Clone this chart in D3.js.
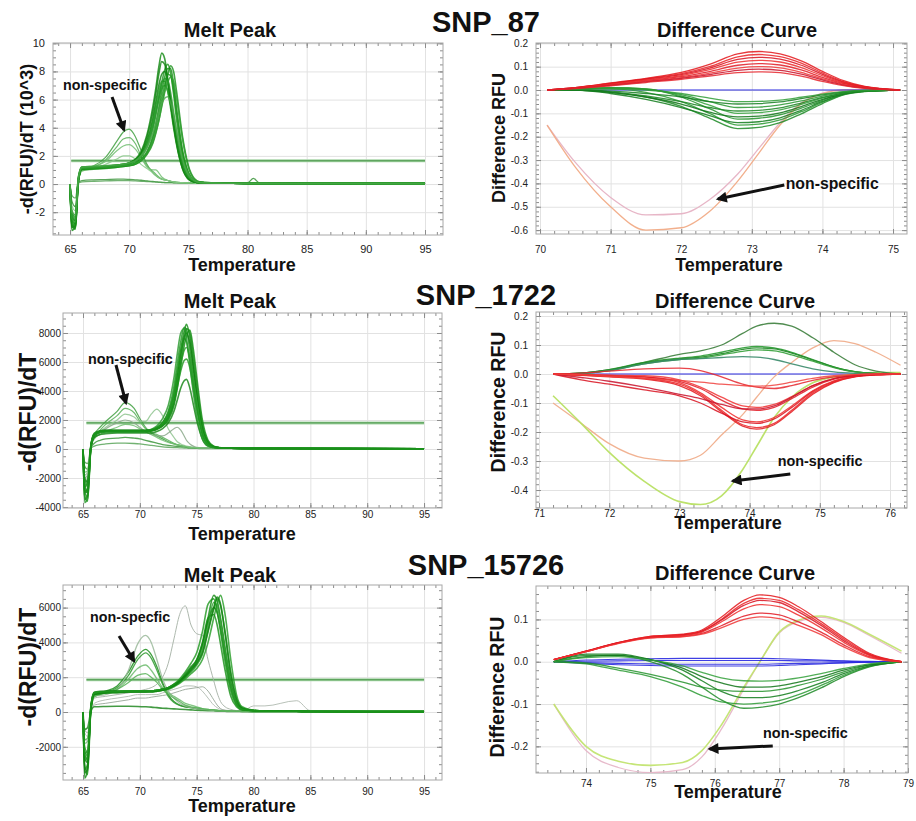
<!DOCTYPE html>
<html>
<head>
<meta charset="utf-8">
<script src="https://cdn.jsdelivr.net/npm/d3@7/dist/d3.min.js"></script>
<style>
  body { margin: 0; background: #fff; }
  svg text { font-family: "Liberation Sans", Arial, sans-serif; }
</style>
</head>
<body>
<svg width="916" height="821"></svg>
<script>
// ---------------- SNP_87 : melt peak (values in 10^3) ----------------
var meltTemps87 = [65, 65.15, 65.45, 65.7, 66, 67, 68, 69, 69.5, 70, 70.5, 71, 71.5, 72, 72.25, 72.5, 72.75, 73, 73.25, 73.5, 73.75, 74, 74.5, 75, 75.5, 76, 78, 80, 80.5, 81, 85, 95];
var melt87Main = [
  [0,-3.3,-3.0,0.3,1.15,1.2,1.25,1.35,1.4,1.5,1.75,2.3,3.5,5.5,6.8,8.3,9.3,8.9,7.5,5.8,4.3,3.0,1.2,0.4,0.15,0.1,0.06,0.05,0.05,0.05,0.04,0.03],
  [0,-2.7,-3.1,0.1,1.05,1.1,1.15,1.25,1.3,1.35,1.5,1.9,2.6,3.9,4.9,6.0,7.2,8.1,8.5,7.9,6.4,4.6,2.0,0.7,0.25,0.1,0.06,0.05,0.05,0.05,0.04,0.03],
  [0,-2.3,-2.6,0.4,1.2,1.2,1.25,1.35,1.4,1.5,1.7,2.1,3.0,4.6,5.8,7.0,7.8,8.0,7.4,6.1,4.6,3.3,1.4,0.45,0.15,0.1,0.06,0.05,0.05,0.05,0.04,0.03],
  [0,-3.0,-2.7,0.2,1.1,1.15,1.2,1.3,1.35,1.45,1.65,2.1,3.0,4.5,5.6,6.6,7.3,7.3,6.6,5.4,4.0,2.8,1.1,0.35,0.15,0.1,0.06,0.05,0.05,0.05,0.04,0.03],
  [0,-2.5,-2.8,0.3,1.1,1.15,1.2,1.25,1.3,1.35,1.45,1.75,2.3,3.4,4.3,5.4,6.6,7.6,8.2,8.2,7.1,5.4,2.4,0.8,0.25,0.1,0.06,0.05,0.05,0.05,0.04,0.03],
  [0,-2.0,-2.4,0.5,1.2,1.25,1.3,1.35,1.4,1.5,1.7,2.1,2.9,4.2,5.2,6.1,6.8,7.0,6.6,5.6,4.3,3.1,1.3,0.45,0.15,0.1,0.06,0.05,0.05,0.05,0.04,0.03],
  [0,-3.1,-2.9,0.2,1.1,1.15,1.2,1.3,1.35,1.45,1.7,2.2,3.3,5.1,6.4,7.8,8.7,8.5,7.3,5.7,4.2,2.9,1.1,0.35,0.15,0.1,0.06,0.05,0.05,0.05,0.04,0.03],
  [0,-2.6,-2.9,0.2,1.0,1.05,1.1,1.2,1.25,1.3,1.4,1.7,2.2,3.2,4.0,5.0,6.1,7.1,7.8,7.7,6.7,5.1,2.3,0.8,0.25,0.1,0.06,0.05,0.05,0.05,0.04,0.03],
  [0,-2.2,-2.5,0.3,1.15,1.2,1.25,1.3,1.35,1.45,1.6,2.0,2.8,4.1,5.1,6.2,7.1,7.5,7.4,6.5,5.1,3.7,1.6,0.55,0.2,0.1,0.06,0.05,0.05,0.05,0.04,0.03],
  [0,-2.9,-3.2,0.2,1.05,1.1,1.15,1.2,1.25,1.3,1.4,1.65,2.1,2.9,3.6,4.5,5.6,6.7,7.7,8.4,8.0,6.6,3.4,1.3,0.4,0.15,0.06,0.05,0.05,0.05,0.04,0.03],
  [0,-2.4,-2.7,0.3,1.1,1.15,1.2,1.25,1.3,1.35,1.45,1.7,2.2,3.0,3.7,4.5,5.5,6.5,7.2,7.6,7.3,6.1,3.2,1.2,0.35,0.12,0.06,0.05,0.05,0.05,0.04,0.03],
  [0,-2.0,-2.2,0.4,1.2,1.25,1.3,1.35,1.4,1.5,1.65,2.0,2.6,3.6,4.3,5.0,5.7,6.1,6.2,5.8,4.9,3.8,1.8,0.7,0.25,0.1,0.06,0.05,0.05,0.05,0.04,0.03]
];
var melt87Nonspec = [
  [0,-2.0,-2.3,0.3,1.1,1.3,1.9,3.1,3.7,3.9,3.4,2.4,1.4,0.8,0.6,0.45,0.35,0.3,0.25,0.2,0.15,0.12,0.1,0.08,0.07,0.06,0.05,0.05,0.05,0.05,0.04,0.03],
  [0,-1.8,-2.2,0.2,1.0,1.2,1.7,2.7,3.2,3.3,2.9,2.0,1.3,0.9,0.7,0.5,0.35,0.3,0.25,0.2,0.15,0.12,0.1,0.08,0.07,0.06,0.05,0.05,0.05,0.05,0.04,0.03],
  [0,-2.4,-2.6,0.3,1.1,1.25,1.6,2.4,2.7,2.8,2.5,1.9,1.2,1.0,1.0,0.8,0.5,0.35,0.25,0.2,0.15,0.12,0.1,0.08,0.07,0.06,0.05,0.05,0.05,0.05,0.04,0.03],
  [0,-1.5,-1.9,0.2,0.9,1.1,1.4,1.8,2.0,2.0,1.8,1.4,1.1,0.8,0.6,0.45,0.35,0.3,0.25,0.2,0.15,0.12,0.1,0.08,0.07,0.06,0.05,0.05,0.05,0.05,0.04,0.03]
];
var melt87Low = [
  [0,-1.2,-1.6,0.1,0.25,0.3,0.32,0.35,0.35,0.33,0.3,0.27,0.22,0.18,0.16,0.14,0.12,0.11,0.1,0.1,0.09,0.09,0.08,0.08,0.07,0.07,0.06,0.08,0.4,0.08,0.05,0.04],
  [0,-0.8,-1.0,0.05,0.15,0.2,0.22,0.25,0.25,0.24,0.22,0.2,0.18,0.16,0.14,0.12,0.11,0.1,0.1,0.1,0.09,0.09,0.08,0.08,0.07,0.07,0.06,0.06,0.06,0.06,0.05,0.04]
];
var melt87Threshold = 1.65;
var meltTicksX = [65, 70, 75, 80, 85, 90, 95];
var melt87TicksY = [-2, 0, 2, 4, 6, 8, 10];

// ---------------- SNP_87 : difference curve ----------------
var diffTemps87 = [70.1, 70.5, 71, 71.5, 72, 72.4, 72.8, 73.1, 73.4, 73.7, 74, 74.3, 74.6, 75.1];
var diff87Red = [
  [0,0.01,0.03,0.05,0.075,0.11,0.155,0.165,0.155,0.125,0.08,0.04,0.015,0],
  [0,0.01,0.028,0.048,0.07,0.1,0.142,0.152,0.143,0.115,0.073,0.036,0.014,0],
  [0,0.01,0.027,0.046,0.066,0.094,0.131,0.14,0.132,0.106,0.067,0.033,0.013,0],
  [0,0.009,0.025,0.043,0.062,0.087,0.119,0.127,0.12,0.096,0.061,0.03,0.012,0],
  [0,0.008,0.023,0.04,0.057,0.079,0.106,0.113,0.107,0.086,0.054,0.027,0.01,0],
  [0,0.008,0.022,0.038,0.053,0.072,0.094,0.1,0.095,0.076,0.048,0.024,0.009,0],
  [0,0.007,0.02,0.035,0.05,0.066,0.084,0.089,0.084,0.068,0.043,0.021,0.008,0],
  [0,0.006,0.018,0.032,0.046,0.06,0.074,0.078,0.074,0.059,0.037,0.019,0.007,0]
];
var diff87Green = [
  [0,0,-0.01,-0.03,-0.07,-0.12,-0.165,-0.16,-0.14,-0.102,-0.058,-0.021,-0.007,0],
  [0,0.005,0.005,-0.01,-0.05,-0.1,-0.15,-0.146,-0.128,-0.093,-0.053,-0.02,-0.006,0],
  [0,0,-0.015,-0.04,-0.075,-0.11,-0.14,-0.136,-0.119,-0.087,-0.049,-0.018,-0.006,0],
  [0,0.005,0.01,0.005,-0.03,-0.08,-0.125,-0.121,-0.106,-0.078,-0.044,-0.016,-0.005,0],
  [0,0,-0.01,-0.03,-0.06,-0.095,-0.115,-0.112,-0.098,-0.071,-0.04,-0.015,-0.005,0],
  [0,0.005,0.01,0.005,-0.025,-0.065,-0.1,-0.097,-0.085,-0.062,-0.035,-0.013,-0.004,0],
  [0,0,-0.008,-0.025,-0.05,-0.075,-0.09,-0.087,-0.077,-0.056,-0.032,-0.012,-0.004,0],
  [0,0.005,0.008,0.003,-0.02,-0.05,-0.075,-0.073,-0.064,-0.047,-0.026,-0.01,-0.003,0],
  [0,0,-0.005,-0.015,-0.03,-0.05,-0.06,-0.058,-0.051,-0.037,-0.021,-0.008,-0.002,0],
  [0,0.003,0.005,0,-0.015,-0.035,-0.05,-0.049,-0.043,-0.031,-0.018,-0.007,-0.002,0]
];
var diff87Blue = [[0,0,0,0,0,0,0,0,0,0,0,0,0,0]];
var diff87NonspecOrange = [-0.15,-0.33,-0.5,-0.6,-0.59,-0.52,-0.39,-0.27,-0.15,-0.06,-0.015,0,0,0];
var diff87NonspecPink = [-0.15,-0.31,-0.46,-0.535,-0.53,-0.47,-0.36,-0.25,-0.14,-0.055,-0.013,0,0,0];
var diff87TicksX = [70, 71, 72, 73, 74, 75];
var diff87TicksY = [-0.6, -0.5, -0.4, -0.3, -0.2, -0.1, 0, 0.1, 0.2];

// ---------------- SNP_1722 : melt peak ----------------
var meltTemps1722 = [65, 65.15, 65.4, 65.7, 66, 66.5, 67, 68, 68.7, 69.5, 70, 70.5, 71, 71.5, 72, 72.5, 73, 73.3, 73.6, 73.9, 74.1, 74.4, 74.7, 75, 75.5, 76, 76.5, 77, 78, 80, 95];
var melt1722Main = [
  [0,-3500,-3200,200,1000,1200,1250,1250,1250,1250,1250,1250,1300,1450,1700,2300,3700,5200,6800,8100,8600,7700,5900,4000,1500,450,150,90,60,40,20],
  [0,-3200,-3600,100,900,1150,1200,1200,1200,1200,1200,1200,1250,1400,1800,2600,4300,5900,7400,8400,8200,6800,5000,3200,1100,300,120,80,60,40,20],
  [0,-2800,-3000,300,1100,1250,1300,1300,1300,1300,1300,1300,1350,1500,1800,2400,3700,5000,6500,7700,8000,7300,5600,3800,1400,400,150,90,60,40,20],
  [0,-3000,-2700,200,1000,1200,1250,1250,1250,1250,1250,1250,1300,1450,1800,2500,3900,5400,6800,7600,7400,6100,4500,2900,1000,300,120,80,60,40,20],
  [0,-2500,-2900,150,950,1150,1200,1200,1200,1200,1200,1200,1250,1350,1600,2000,3000,4200,5700,7100,7800,8200,6900,5000,2000,600,200,100,60,40,20],
  [0,-2200,-2500,300,1050,1200,1250,1250,1250,1250,1250,1250,1300,1450,1700,2300,3500,4700,5900,6800,7000,6300,4800,3300,1200,350,130,80,60,40,20],
  [0,-2000,-2300,200,800,1000,1050,1100,1100,1100,1100,1100,1100,1200,1400,1800,2600,3400,4200,4700,4800,4200,3100,2000,700,200,100,70,50,30,20],
  [0,-2600,-2400,250,1000,1150,1200,1200,1200,1200,1200,1200,1250,1400,1700,2200,3200,4300,5400,6100,6200,5600,4200,2800,1000,300,120,80,60,40,20],
  [0,-3700,-3400,150,950,1150,1200,1200,1200,1200,1200,1250,1350,1600,2100,3000,4900,6600,8000,8300,7600,5800,3900,2300,700,200,100,70,50,30,20],
  [0,-2900,-3300,200,1000,1200,1250,1250,1250,1250,1250,1250,1300,1400,1600,2100,3200,4500,6100,7600,8300,8000,6400,4500,1700,500,170,90,60,40,20]
];
var melt1722Nonspec = [
  [0,-2500,-2200,300,1000,1500,1900,2600,3200,2800,2100,1500,1100,900,700,500,350,280,220,180,150,120,100,90,80,70,60,50,40,30,20],
  [0,-2300,-2000,200,900,1300,1700,2300,2800,2500,1900,1400,1100,1000,800,600,400,300,250,200,160,130,110,90,80,70,60,50,40,30,20],
  [0,-1800,-1600,200,800,1200,1500,2000,2400,2200,1900,1900,2400,2750,2300,1400,800,500,350,250,200,150,120,100,80,70,60,50,40,30,20],
  [0,-2000,-1800,200,800,1100,1400,1800,2000,1800,1500,1200,1000,900,900,1100,1400,1500,1300,900,600,350,200,120,80,70,60,50,40,30,20],
  [0,-1600,-1500,150,700,1000,1200,1500,1700,1600,1400,1200,1000,800,600,450,350,280,220,180,150,120,100,90,80,70,60,50,40,30,20]
];
var melt1722Low = [
  [0,-1200,-1400,100,400,600,700,750,800,750,700,600,500,400,300,250,200,180,160,140,120,100,90,80,70,60,50,40,40,30,20],
  [0,-900,-1000,50,200,300,350,400,400,380,350,300,250,200,150,120,100,90,80,70,60,50,40,40,30,30,30,20,20,20,20]
];
var melt1722Threshold = 1800;
var melt1722TicksY = [-4000, -2000, 0, 2000, 4000, 6000, 8000];

// ---------------- SNP_1722 : difference curve ----------------
var diffTemps1722 = [71.2, 71.6, 72, 72.5, 73, 73.3, 73.6, 73.9, 74.1, 74.35, 74.6, 74.9, 75.2, 75.5, 75.8, 76.15];
var diff1722Green = [
  [0,0.003,0.015,0.04,0.068,0.08,0.1,0.14,0.165,0.175,0.165,0.125,0.075,0.032,0.01,0],
  [0,0.003,0.015,0.04,0.055,0.062,0.075,0.09,0.095,0.09,0.075,0.05,0.025,0.008,0.002,0],
  [0,0.003,0.013,0.038,0.052,0.058,0.07,0.085,0.09,0.087,0.072,0.048,0.024,0.008,0.002,0],
  [0,0.002,0.012,0.035,0.05,0.055,0.066,0.078,0.083,0.08,0.066,0.044,0.022,0.007,0.002,0],
  [0,0.002,0.012,0.035,0.05,0.053,0.057,0.06,0.058,0.05,0.035,0.018,0.007,0.002,0,0]
];
var diff1722Red = [
  [0,-0.005,-0.01,-0.018,-0.04,-0.075,-0.13,-0.18,-0.19,-0.175,-0.13,-0.07,-0.03,-0.01,-0.003,0],
  [0,-0.004,-0.008,-0.015,-0.035,-0.07,-0.125,-0.175,-0.185,-0.17,-0.125,-0.065,-0.028,-0.009,-0.003,0],
  [0,-0.02,-0.035,-0.055,-0.075,-0.1,-0.135,-0.165,-0.17,-0.155,-0.115,-0.06,-0.025,-0.008,-0.002,0],
  [0,-0.003,-0.006,-0.01,-0.03,-0.065,-0.115,-0.158,-0.165,-0.15,-0.11,-0.058,-0.024,-0.008,-0.002,0],
  [0,-0.003,-0.005,-0.01,-0.025,-0.05,-0.09,-0.12,-0.125,-0.115,-0.085,-0.045,-0.018,-0.006,-0.002,0],
  [0,-0.002,-0.004,-0.006,-0.02,-0.045,-0.08,-0.11,-0.115,-0.105,-0.078,-0.04,-0.016,-0.005,-0.001,0],
  [0,-0.012,-0.025,-0.045,-0.07,-0.085,-0.105,-0.12,-0.12,-0.11,-0.08,-0.04,-0.016,-0.005,-0.001,0],
  [0,0.003,0.01,0.018,0.02,0.012,-0.01,-0.035,-0.045,-0.05,-0.04,-0.022,-0.01,-0.003,0,0],
  [0,-0.003,-0.008,-0.015,-0.022,-0.028,-0.035,-0.04,-0.042,-0.038,-0.028,-0.015,-0.006,-0.002,0,0]
];
var diff1722Blue = [[0,0,0,0,0,0,0,0,0,0,0,0,0,0,0,0]];
var diff1722NonspecOrange = [-0.1,-0.17,-0.24,-0.29,-0.3,-0.28,-0.21,-0.14,-0.08,-0.01,0.04,0.09,0.115,0.105,0.075,0.03];
var diff1722NonspecLime = [-0.075,-0.17,-0.27,-0.37,-0.44,-0.45,-0.42,-0.33,-0.25,-0.15,-0.08,-0.03,-0.01,0,0.005,0.005];
var diff1722TicksX = [71, 72, 73, 74, 75, 76];
var diff1722TicksY = [-0.4, -0.3, -0.2, -0.1, 0, 0.1, 0.2];

// ---------------- SNP_15726 : melt peak ----------------
var meltTemps15726 = [65, 65.15, 65.4, 65.7, 66, 67, 68, 69, 69.8, 70.5, 71, 71.5, 72, 72.5, 73, 73.5, 74, 74.5, 75, 75.5, 76, 76.5, 76.8, 77.1, 77.5, 78, 78.5, 79, 80, 81, 83.8, 85, 95];
var melt15726Main = [
  [0,-3800,-3300,300,1100,1150,1150,1200,1200,1200,1200,1250,1300,1400,1550,1800,2100,2500,2900,3800,5400,6700,6400,5400,3700,1700,550,200,80,50,40,30,20],
  [0,-3000,-3600,200,1000,1100,1150,1150,1150,1150,1200,1200,1250,1350,1500,1700,2000,2300,2700,3300,4600,5900,6500,6100,4600,2300,800,250,90,50,40,30,20],
  [0,-2600,-2900,400,1150,1200,1200,1200,1200,1200,1200,1250,1300,1400,1600,1800,2200,2600,3000,3900,5200,6000,5700,4800,3200,1400,450,150,80,50,40,30,20],
  [0,-2800,-2600,300,1050,1100,1150,1150,1150,1150,1150,1200,1250,1300,1450,1650,1900,2200,2500,3000,4000,5400,6200,6700,5600,3000,1000,300,100,50,40,30,20],
  [0,-3300,-3000,250,1100,1150,1200,1200,1200,1200,1200,1250,1300,1400,1550,1800,2100,2500,3000,4000,5400,5600,5000,3900,2400,900,300,120,80,50,40,30,20],
  [0,-2200,-2500,350,1100,1150,1150,1200,1200,1200,1200,1250,1300,1350,1500,1700,2000,2400,2800,3600,5000,6300,6100,5200,3500,1600,500,180,80,50,40,30,20],
  [0,-3500,-3200,200,1000,1100,1100,1150,1150,1150,1150,1200,1250,1350,1500,1750,2050,2400,2800,3400,4700,6000,6600,6200,4500,2100,700,220,90,50,40,30,20],
  [0,-2400,-2700,300,1100,1150,1150,1200,1200,1200,1200,1250,1300,1400,1600,1900,2300,2800,3400,4600,6200,6500,5800,4600,2900,1200,400,150,80,50,40,30,20]
];
var melt15726Nonspec = [
  [0,-2400,-2200,300,1000,1200,1500,2300,3200,3600,3300,2600,1700,1000,600,400,300,250,200,150,120,100,80,70,60,50,40,40,30,30,30,30,20],
  [0,-2000,-2300,250,1000,1150,1400,2100,3000,3400,3100,2400,1600,900,550,380,300,250,200,150,120,100,80,70,60,50,40,40,30,30,30,30,20],
  [0,-2600,-2400,200,900,1000,1300,2400,3900,4400,4000,3000,1900,1200,800,500,350,250,200,150,120,100,80,70,60,50,40,40,30,30,30,30,20],
  [0,-1800,-1700,200,900,1100,1300,1900,2500,2700,2400,1900,1400,1100,900,700,500,400,300,200,150,120,100,80,60,50,40,40,30,30,30,30,20],
  [0,-1600,-1500,150,900,1100,1300,1700,2100,2200,2000,1700,1300,1000,800,600,400,300,250,200,150,120,100,80,60,50,40,40,30,30,30,30,20]
];
var melt15726Gray = [
  [0,-1500,-1700,100,800,900,1000,1100,1200,1300,1400,1600,2000,2800,4200,5600,6100,5000,4500,4400,3000,1800,1100,600,300,150,80,50,40,40,40,30,20],
  [0,-1200,-1400,100,500,700,800,900,1000,1000,1000,1000,1100,1200,1300,1400,1500,1500,1450,1200,800,400,250,150,100,80,60,40,350,350,650,80,30],
  [0,-1000,-1200,80,400,500,600,700,800,800,850,900,950,1000,1100,1200,1300,1350,1400,1450,1200,700,400,200,100,60,40,30,30,30,30,30,20]
];
var melt15726Low = [
  [0,-1000,-900,50,300,320,330,330,320,300,280,250,220,200,180,160,140,120,100,90,80,70,60,50,40,30,30,20,20,20,20,20,20]
];
var melt15726Threshold = 1850;
var melt15726TicksY = [-2000, 0, 2000, 4000, 6000];

// ---------------- SNP_15726 : difference curve ----------------
var diffTemps15726 = [73.5, 74, 74.5, 75, 75.5, 75.8, 76.1, 76.45, 76.7, 77, 77.3, 77.65, 78, 78.4, 78.9];
var diff15726Red = [
  [0.005,0.025,0.045,0.06,0.065,0.075,0.105,0.145,0.158,0.152,0.13,0.095,0.058,0.02,0],
  [0.005,0.025,0.045,0.06,0.064,0.073,0.1,0.138,0.15,0.145,0.123,0.09,0.054,0.018,0],
  [0.005,0.025,0.045,0.058,0.063,0.072,0.098,0.133,0.145,0.14,0.118,0.086,0.05,0.016,0],
  [0.005,0.024,0.044,0.058,0.062,0.07,0.094,0.125,0.135,0.13,0.11,0.08,0.046,0.015,0],
  [0.005,0.024,0.044,0.057,0.06,0.067,0.085,0.108,0.115,0.111,0.094,0.07,0.04,0.012,0],
  [0.005,0.024,0.043,0.056,0.059,0.065,0.08,0.1,0.106,0.102,0.086,0.064,0.035,0.01,0]
];
var diff15726Green = [
  [0,0.015,0.015,0,-0.03,-0.06,-0.09,-0.11,-0.108,-0.1,-0.085,-0.062,-0.035,-0.012,0],
  [0,-0.005,-0.02,-0.035,-0.06,-0.08,-0.095,-0.1,-0.098,-0.092,-0.078,-0.056,-0.032,-0.011,0],
  [0,0.018,0.018,0.005,-0.02,-0.045,-0.07,-0.085,-0.085,-0.08,-0.068,-0.05,-0.028,-0.01,0],
  [0,-0.003,-0.015,-0.03,-0.048,-0.06,-0.067,-0.07,-0.07,-0.066,-0.056,-0.042,-0.024,-0.008,0],
  [0,0.012,0.015,0.005,-0.015,-0.035,-0.05,-0.06,-0.06,-0.057,-0.048,-0.036,-0.02,-0.007,0],
  [0,0.01,0.012,0.004,-0.01,-0.025,-0.038,-0.045,-0.046,-0.044,-0.038,-0.028,-0.016,-0.005,0]
];
var diff15726Blue = [
  [0,0.004,0.006,0.007,0.008,0.008,0.008,0.008,0.008,0.007,0.006,0.004,0.002,0.001,0],
  [0,0.001,0.002,0.003,0.003,0.003,0.003,0.003,0.003,0.003,0.002,0.002,0.001,0,0],
  [0,-0.002,-0.004,-0.005,-0.006,-0.006,-0.006,-0.006,-0.006,-0.005,-0.004,-0.003,-0.002,-0.001,0],
  [0,-0.004,-0.007,-0.009,-0.01,-0.01,-0.01,-0.01,-0.01,-0.009,-0.007,-0.005,-0.003,-0.001,0]
];
var diff15726NonspecLime = [-0.1,-0.2,-0.235,-0.245,-0.238,-0.21,-0.15,-0.06,0,0.07,0.098,0.108,0.095,0.065,0.025];
var diff15726NonspecPink = [-0.1,-0.21,-0.25,-0.262,-0.255,-0.225,-0.16,-0.065,0,0.068,0.095,0.105,0.093,0.062,0.02];
var diff15726TicksX = [74, 75, 76, 77, 78, 79];
var diff15726TicksY = [-0.2, -0.1, 0, 0.1];

// ---------------- drawing ----------------
var svg = d3.select("svg");
var defs = svg.append("defs");
defs.append("marker")
    .attr("id", "arrowhead")
    .attr("viewBox", "0 0 10 10")
    .attr("refX", 8).attr("refY", 5)
    .attr("markerWidth", 12).attr("markerHeight", 11)
    .attr("markerUnits", "userSpaceOnUse")
    .attr("orient", "auto")
  .append("path")
    .attr("d", "M0,0L10,5L0,10z")
    .attr("fill", "#111");

var intFmt = function (d) { return String(d); };
var decFmt = function (d) { return d.toFixed(1); };

var meltGreens = ["#0e870e", "#1b941b", "#0a7c0a", "#239b23", "#138d13", "#2a9e2a", "#0f820f", "#1d961d", "#27992a", "#168f16", "#31a031", "#4aa84a"];
var meltLight = ["#3f9f3f", "#58b158", "#72be72", "#88c888", "#4aa84a"];
var meltLow = ["#2f8f2f", "#4f9f4f"];
var meltGray = ["#a4b0a4", "#b0bab0", "#98a698"];
var reds = ["#e3161b", "#ea2226", "#d8101e", "#ef2b2b", "#e01a24", "#f03434", "#c8102a", "#e5242c", "#f0403c"];
var greens = ["#1d8a26", "#2a9a32", "#127c1c", "#24922c", "#0f7418", "#32a03a", "#1a8422", "#289630", "#157e20", "#2f9c36"];

function drawPanel(p, idx) {
  var L = p.box[0], R = p.box[1], T = p.box[2], B = p.box[3];
  var x = d3.scaleLinear().domain(p.xDomain).range([L, R]);
  var y = d3.scaleLinear().domain(p.yDomain).range([B, T]);
  var g = svg.append("g");

  // light grid at the major ticks
  var gx = g.append("g").attr("transform", "translate(0," + B + ")")
      .call(d3.axisBottom(x).tickValues(p.xTicks).tickSize(-(B - T)).tickFormat(""));
  var gy = g.append("g").attr("transform", "translate(" + L + ",0)")
      .call(d3.axisLeft(y).tickValues(p.yTicks).tickSize(-(R - L)).tickFormat(""));
  [gx, gy].forEach(function (a) {
    a.select(".domain").remove();
    a.selectAll("line").attr("stroke", "#e2e2e2");
  });

  // inward tick marks on all four sides
  var xMinor = d3.range(Math.ceil(p.xDomain[0] / p.xMinor) * p.xMinor, p.xDomain[1], p.xMinor);
  var yMinor = d3.range(Math.ceil(p.yDomain[0] / p.yMinor) * p.yMinor, p.yDomain[1], p.yMinor);
  function ticks(axis, tr, vals, size) {
    var a = g.append("g").attr("transform", tr)
        .call(axis.tickValues(vals).tickSize(-size).tickFormat(""));
    a.select(".domain").remove();
    a.selectAll("line").attr("stroke", "#8c8c8c");
  }
  ticks(d3.axisBottom(x), "translate(0," + B + ")", xMinor, 3);
  ticks(d3.axisTop(x), "translate(0," + T + ")", xMinor, 3);
  ticks(d3.axisLeft(y), "translate(" + L + ",0)", yMinor, 3);
  ticks(d3.axisRight(y), "translate(" + R + ",0)", yMinor, 3);
  ticks(d3.axisBottom(x), "translate(0," + B + ")", p.xTicks, 5);
  ticks(d3.axisTop(x), "translate(0," + T + ")", p.xTicks, 5);
  ticks(d3.axisLeft(y), "translate(" + L + ",0)", p.yTicks, 5);
  ticks(d3.axisRight(y), "translate(" + R + ",0)", p.yTicks, 5);

  g.append("rect")
      .attr("x", L).attr("y", T).attr("width", R - L).attr("height", B - T)
      .attr("fill", "none").attr("stroke", "#a8a8a8");

  // curves
  defs.append("clipPath").attr("id", "clip" + idx)
    .append("rect").attr("x", L).attr("y", T).attr("width", R - L).attr("height", B - T);
  var plot = g.append("g").attr("clip-path", "url(#clip" + idx + ")");

  (p.hlines || []).forEach(function (h) {
    plot.append("line")
        .attr("x1", x(h.from)).attr("x2", x(h.to)).attr("y1", y(h.value)).attr("y2", y(h.value))
        .attr("stroke", "#a9d6a9").attr("stroke-width", 3);
    plot.append("line")
        .attr("x1", x(h.from)).attr("x2", x(h.to)).attr("y1", y(h.value)).attr("y2", y(h.value))
        .attr("stroke", "#3f8f3f").attr("stroke-width", 1);
  });

  p.series.forEach(function (s) {
    var line = d3.line()
        .x(function (d, i) { return x(s.grid[i]); })
        .y(function (d) { return y(d); })
        .curve(d3.curveMonotoneX);
    plot.append("g").selectAll("path")
        .data(s.curves)
      .enter().append("path")
        .attr("d", line)
        .attr("fill", "none")
        .attr("stroke", function (d, i) { return s.colors[i % s.colors.length]; })
        .attr("stroke-width", s.width)
        .attr("stroke-opacity", s.opacity);
  });

  // tick labels
  var xl = g.append("g").attr("transform", "translate(0," + B + ")")
      .call(d3.axisBottom(x).tickValues(p.xTicks).tickSize(0).tickFormat(p.xFmt));
  xl.select(".domain").remove();
  xl.selectAll("text").attr("y", p.xLabelOffset).attr("dy", null)
      .attr("font-size", p.tickFont).attr("fill", "#222");
  var yl = g.append("g").attr("transform", "translate(" + L + ",0)")
      .call(d3.axisLeft(y).tickValues(p.yTicks).tickSize(0).tickPadding(p.yLabelPad).tickFormat(p.yFmt));
  yl.select(".domain").remove();
  yl.selectAll("text").attr("font-size", p.tickFont).attr("fill", "#222");

  // titles
  g.append("text")
      .attr("x", p.title[1]).attr("y", p.title[2])
      .attr("text-anchor", "middle").attr("font-size", 20).attr("font-weight", "bold")
      .attr("fill", "#111").text(p.title[0]);
  g.append("text")
      .attr("x", p.xTitle[0]).attr("y", p.xTitle[1])
      .attr("text-anchor", "middle").attr("font-size", 18).attr("font-weight", "bold")
      .attr("fill", "#111").text("Temperature");
  g.append("text")
      .attr("transform", "translate(" + p.yTitle[1] + "," + p.yTitle[2] + ") rotate(-90)")
      .attr("text-anchor", "middle").attr("font-size", p.yTitle[3]).attr("font-weight", "bold")
      .attr("fill", "#111").text(p.yTitle[0]);

  // annotation
  var n = p.note;
  g.append("text")
      .attr("x", x(n.at[0])).attr("y", y(n.at[1]))
      .attr("font-size", n.size).attr("font-weight", "bold").attr("fill", "#111")
      .text(n.text);
  g.append("line")
      .attr("x1", x(n.from[0])).attr("y1", y(n.from[1]))
      .attr("x2", x(n.to[0])).attr("y2", y(n.to[1]))
      .attr("stroke", "#111").attr("stroke-width", 3)
      .attr("marker-end", "url(#arrowhead)");
}

var panels = [
  { // SNP_87 melt
    box: [53, 443, 43, 235], xDomain: [63.56, 96.52], yDomain: [-3.62, 10.02],
    xTicks: meltTicksX, yTicks: melt87TicksY, xMinor: 1, yMinor: 0.5,
    xFmt: intFmt, yFmt: intFmt, tickFont: 11, xLabelOffset: 18, yLabelPad: 8,
    title: ["Melt Peak", 230, 37], xTitle: [242, 271], yTitle: ["-d(RFU)/dT (10^3)", 33, 139, 18],
    hlines: [{ value: melt87Threshold, from: 65.1, to: 95 }],
    series: [
      { grid: meltTemps87, curves: melt87Low, colors: meltLow, width: 1.3, opacity: 0.8 },
      { grid: meltTemps87, curves: melt87Nonspec, colors: meltLight, width: 1.2, opacity: 0.85 },
      { grid: meltTemps87, curves: melt87Main, colors: meltGreens, width: 1.6, opacity: 0.8 }
    ],
    note: { text: "non-specific", size: 14.3, at: [64.41, 6.68], from: [68.55, 6.18], to: [69.56, 3.84] }
  },
  { // SNP_87 difference
    box: [536, 907, 43, 234], xDomain: [69.943, 75.198], yDomain: [-0.6167, 0.2013],
    xTicks: diff87TicksX, yTicks: diff87TicksY, xMinor: 0.2, yMinor: 0.02,
    xFmt: intFmt, yFmt: decFmt, tickFont: 10, xLabelOffset: 19, yLabelPad: 8,
    title: ["Difference Curve", 737, 37], xTitle: [729, 271], yTitle: ["Difference RFU", 505, 138, 18],
    series: [
      { grid: diffTemps87, curves: [diff87NonspecPink], colors: ["#e6b2c4"], width: 1.3, opacity: 0.95 },
      { grid: diffTemps87, curves: [diff87NonspecOrange], colors: ["#f1ab86"], width: 1.3, opacity: 0.95 },
      { grid: diffTemps87, curves: diff87Blue, colors: ["#2a2ae0"], width: 1.1, opacity: 1 },
      { grid: diffTemps87, curves: diff87Green, colors: greens, width: 1.3, opacity: 0.85 },
      { grid: diffTemps87, curves: diff87Red, colors: reds, width: 1.3, opacity: 0.85 }
    ],
    note: { text: "non-specific", size: 15.8, at: [73.48, -0.424], from: [73.46, -0.407], to: [72.52, -0.467] }
  },
  { // SNP_1722 melt
    box: [63, 442, 313, 508], xDomain: [63.24, 96.58], yDomain: [-4069, 9379],
    xTicks: meltTicksX, yTicks: melt1722TicksY, xMinor: 1, yMinor: 500,
    xFmt: intFmt, yFmt: intFmt, tickFont: 10, xLabelOffset: 10, yLabelPad: 2,
    title: ["Melt Peak", 230, 308], xTitle: [242, 540], yTitle: ["-d(RFU)/dT", 36, 412, 23],
    hlines: [{ value: melt1722Threshold, from: 65.3, to: 95 }],
    series: [
      { grid: meltTemps1722, curves: melt1722Low, colors: meltLow, width: 1.3, opacity: 0.8 },
      { grid: meltTemps1722, curves: melt1722Nonspec, colors: ["#3f9f3f", "#58b158", "#8fc48f", "#8aa88a", "#72be72"], width: 1.2, opacity: 0.85 },
      { grid: meltTemps1722, curves: melt1722Main, colors: meltGreens, width: 1.6, opacity: 0.8 }
    ],
    note: { text: "non-specific", size: 14.4, at: [65.44, 5862], from: [67.9, 5793], to: [68.78, 3172] }
  },
  { // SNP_1722 difference
    box: [536, 907, 312, 508], xDomain: [70.957, 76.242], yDomain: [-0.462, 0.2138],
    xTicks: diff1722TicksX, yTicks: diff1722TicksY, xMinor: 0.2, yMinor: 0.02,
    xFmt: intFmt, yFmt: decFmt, tickFont: 10, xLabelOffset: 9, yLabelPad: 8,
    title: ["Difference Curve", 735, 308], xTitle: [728, 529], yTitle: ["Difference RFU", 505, 402, 19.5],
    series: [
      { grid: diffTemps1722, curves: diff1722Blue, colors: ["#2a2ae0"], width: 1.1, opacity: 1 },
      { grid: diffTemps1722, curves: [diff1722NonspecOrange], colors: ["#f0ae8c"], width: 1.3, opacity: 0.95 },
      { grid: diffTemps1722, curves: [diff1722NonspecLime], colors: ["#b8e063"], width: 1.6, opacity: 0.95 },
      { grid: diffTemps1722, curves: diff1722Green, colors: ["#3d7f3d", "#2a9a32", "#1f8a26", "#35a03a", "#3a8a6a"], width: 1.3, opacity: 0.9 },
      { grid: diffTemps1722, curves: diff1722Red, colors: reds, width: 1.3, opacity: 0.85 }
    ],
    note: { text: "non-specific", size: 14.4, at: [74.4, -0.317], from: [74.58, -0.345], to: [73.76, -0.369] }
  },
  { // SNP_15726 melt
    box: [63, 442, 585, 780], xDomain: [63.24, 96.58], yDomain: [-3908, 7299],
    xTicks: meltTicksX, yTicks: melt15726TicksY, xMinor: 1, yMinor: 500,
    xFmt: intFmt, yFmt: intFmt, tickFont: 10, xLabelOffset: 15, yLabelPad: 2,
    title: ["Melt Peak", 230, 582], xTitle: [242, 812], yTitle: ["-d(RFU)/dT", 36, 667, 23],
    hlines: [{ value: melt15726Threshold, from: 65.3, to: 95 }],
    series: [
      { grid: meltTemps15726, curves: melt15726Gray, colors: meltGray, width: 1.0, opacity: 0.9 },
      { grid: meltTemps15726, curves: melt15726Low, colors: meltLow, width: 1.6, opacity: 0.9 },
      { grid: meltTemps15726, curves: melt15726Nonspec, colors: ["#1f8f1f", "#2f9a2f", "#9ab89a", "#6dbb6d", "#58b158"], width: 1.3, opacity: 0.85 },
      { grid: meltTemps15726, curves: melt15726Main, colors: meltGreens, width: 1.6, opacity: 0.8 }
    ],
    note: { text: "non-specfic", size: 14.3, at: [65.62, 5172], from: [68.17, 4368], to: [69.49, 2931] }
  },
  { // SNP_15726 difference
    box: [536, 908, 586, 773], xDomain: [73.224, 79.0], yDomain: [-0.263, 0.179],
    xTicks: diff15726TicksX, yTicks: diff15726TicksY, xMinor: 0.2, yMinor: 0.02,
    xFmt: intFmt, yFmt: decFmt, tickFont: 10, xLabelOffset: 14, yLabelPad: 8,
    title: ["Difference Curve", 735, 580], xTitle: [728, 798], yTitle: ["Difference RFU", 504, 687, 19.5],
    series: [
      { grid: diffTemps15726, curves: [diff15726NonspecPink], colors: ["#e6b6c8"], width: 1.3, opacity: 0.95 },
      { grid: diffTemps15726, curves: [diff15726NonspecLime], colors: ["#c2e470"], width: 1.6, opacity: 0.95 },
      { grid: diffTemps15726, curves: diff15726Blue, colors: ["#2a2ae0"], width: 1.1, opacity: 0.9 },
      { grid: diffTemps15726, curves: diff15726Green, colors: greens, width: 1.3, opacity: 0.85 },
      { grid: diffTemps15726, curves: diff15726Red, colors: reds, width: 1.3, opacity: 0.85 }
    ],
    note: { text: "non-specific", size: 14.4, at: [76.75, -0.18], from: [76.9, -0.199], to: [75.92, -0.206] }
  }
];

panels.forEach(drawPanel);

// SNP headings
var headings = [["SNP_87", 32], ["SNP_1722", 305], ["SNP_15726", 575]];
svg.selectAll(".snp").data(headings).enter().append("text")
    .attr("class", "snp")
    .attr("x", 486).attr("y", function (d) { return d[1]; })
    .attr("text-anchor", "middle").attr("font-size", 29).attr("font-weight", "bold")
    .attr("fill", "#111")
    .text(function (d) { return d[0]; });
</script>
</body>
</html>
